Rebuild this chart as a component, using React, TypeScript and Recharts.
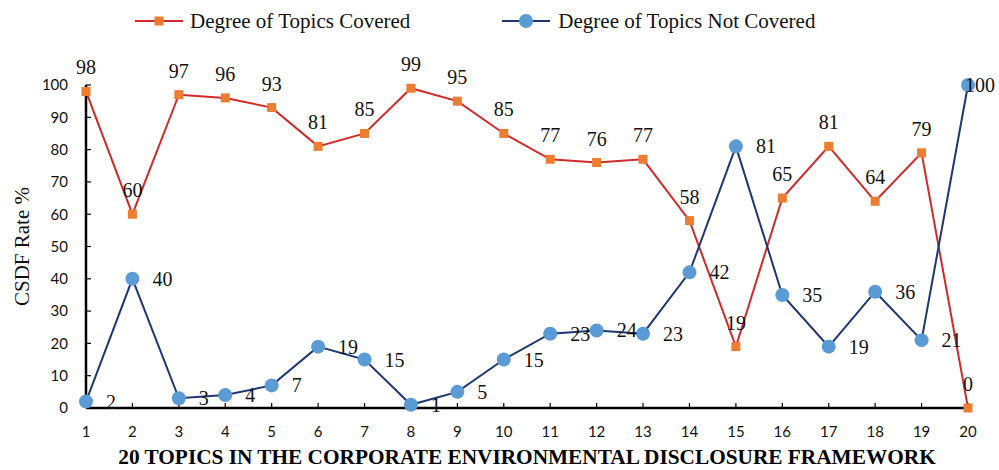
import React from "react";
import { LineChart, Line, XAxis, YAxis, Legend, LabelList } from "recharts";

const topics = [1, 2, 3, 4, 5, 6, 7, 8, 9, 10, 11, 12, 13, 14, 15, 16, 17, 18, 19, 20];
const covered = [98, 60, 97, 96, 93, 81, 85, 99, 95, 85, 77, 76, 77, 58, 19, 65, 81, 64, 79, 0];
const notCovered = [2, 40, 3, 4, 7, 19, 15, 1, 5, 15, 23, 24, 23, 42, 81, 35, 19, 36, 21, 100];
const yTicks = [0, 10, 20, 30, 40, 50, 60, 70, 80, 90, 100];

const data = topics.map((t, i) => ({ topic: t, covered: covered[i], notCovered: notCovered[i] }));

const RED = "#d02a2a";
const ORANGE = "#ed7d31";
const NAVY = "#1f3670";
const BLUE = "#5b9bd5";
const SERIF = "'Liberation Serif', 'Times New Roman', serif";
const SANS = "Lato, 'Open Sans', sans-serif";

const SquareDot = (props: any) => {
  const { cx, cy } = props;
  if (cx == null || cy == null) return null;
  return <rect x={cx - 4.5} y={cy - 4.5} width={9} height={9} fill={ORANGE} />;
};

const CircleDot = (props: any) => {
  const { cx, cy } = props;
  if (cx == null || cy == null) return null;
  return <circle cx={cx} cy={cy} r={7} fill={BLUE} />;
};

const rightLabel = (props: any) => {
  const { x, y, value, index } = props;
  const dx = index === topics.length - 1 ? -3 : 20;
  return (
    <text x={x + dx} y={y} dy="0.35em" textAnchor="start" fontFamily={SERIF} fontSize={20} fill="#111">
      {value}
    </text>
  );
};

const LegendBox = () => (
  <div style={{ display: "flex", alignItems: "center", height: 42, paddingLeft: 135, fontFamily: SERIF, fontSize: 21, color: "#111" }}>
    <svg width={48} height={16}>
      <line x1={0} y1={8} x2={48} y2={8} stroke={RED} strokeWidth={2} />
      <rect x={19.5} y={3.5} width={9} height={9} fill={ORANGE} />
    </svg>
    <span style={{ marginLeft: 7 }}>Degree of Topics Covered</span>
    <svg width={48} height={16} style={{ marginLeft: 92 }}>
      <line x1={0} y1={8} x2={48} y2={8} stroke={NAVY} strokeWidth={2} />
      <circle cx={24} cy={8} r={7} fill={BLUE} />
    </svg>
    <span style={{ marginLeft: 8 }}>Degree of Topics Not Covered</span>
  </div>
);

export default function App() {
  return (
    <div style={{ position: "absolute", left: 0, top: 0, background: "#fff" }}>
      <LineChart width={999} height={470} data={data} margin={{ top: 43, right: 31, bottom: 0, left: 0 }}>
        <Legend verticalAlign="top" align="left" content={<LegendBox />} wrapperStyle={{ top: 0, left: 0, width: 999 }} />
        <XAxis
          dataKey="topic"
          type="number"
          domain={[1, 20]}
          ticks={topics}
          height={62}
          axisLine={{ stroke: "#000", strokeWidth: 2.5 }}
          tickLine={{ stroke: "#000", strokeWidth: 1.2 }}
          tickSize={-5}
          tickMargin={23}
          tick={{ fontFamily: SANS, fontSize: 15, fill: "#111" }}
          label={(p: any) => {
            const vb = p.viewBox;
            return (
              <text x={vb.x + vb.width / 2} y={vb.y + 56} textAnchor="middle" fontFamily={SERIF} fontWeight="bold" fontSize={21.3} fill="#000">
                20 TOPICS IN THE CORPORATE ENVIRONMENTAL DISCLOSURE FRAMEWORK
              </text>
            );
          }}
        />
        <YAxis
          type="number"
          domain={[0, 100]}
          ticks={yTicks}
          width={86}
          axisLine={{ stroke: "#000", strokeWidth: 2.5 }}
          tickLine={{ stroke: "#000", strokeWidth: 1.2 }}
          tickSize={-5}
          tickMargin={23}
          tick={{ fontFamily: SANS, fontSize: 15, fill: "#111" }}
          label={(p: any) => {
            const vb = p.viewBox;
            const cy = vb.y + vb.height / 2;
            return (
              <text x={22} y={cy} transform={`rotate(-90, 22, ${cy})`} dy="0.35em" textAnchor="middle" fontFamily={SERIF} fontSize={21} fill="#111">
                CSDF Rate %
              </text>
            );
          }}
        />
        <Line
          dataKey="covered"
          name="Degree of Topics Covered"
          stroke={RED}
          strokeWidth={2}
          dot={<SquareDot />}
          activeDot={false}
          isAnimationActive={false}
        >
          <LabelList dataKey="covered" position="top" offset={17} style={{ fontFamily: SERIF, fontSize: 20, fill: "#111" }} />
        </Line>
        <Line
          dataKey="notCovered"
          name="Degree of Topics Not Covered"
          stroke={NAVY}
          strokeWidth={2}
          dot={<CircleDot />}
          activeDot={false}
          isAnimationActive={false}
        >
          <LabelList dataKey="notCovered" content={rightLabel} />
        </Line>
      </LineChart>
    </div>
  );
}
